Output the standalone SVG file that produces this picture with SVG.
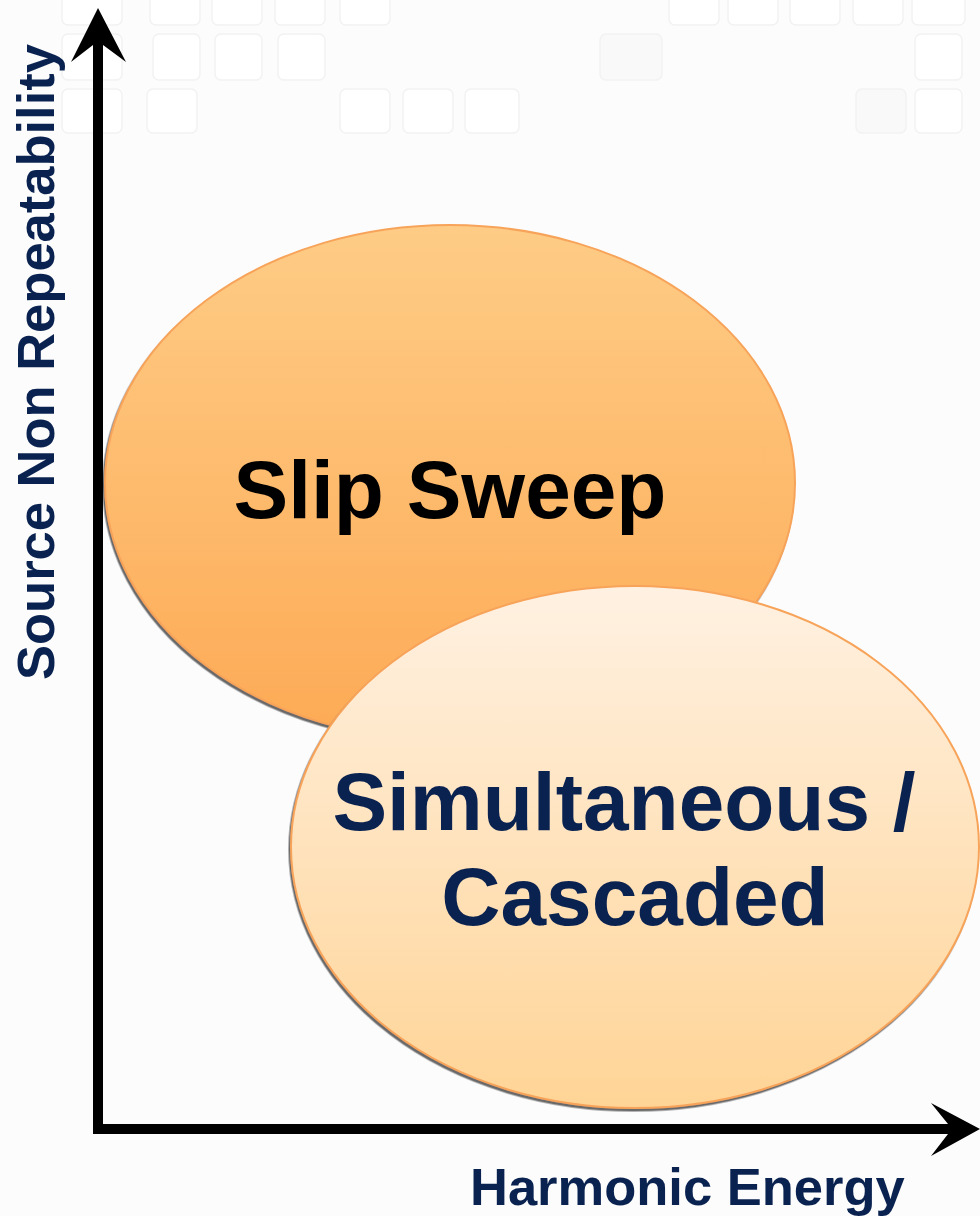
<svg xmlns="http://www.w3.org/2000/svg" width="980" height="1216" viewBox="0 0 980 1216">
  <defs>
    <linearGradient id="gSlip" x1="0" y1="0" x2="0" y2="1">
      <stop offset="0" stop-color="#FECC86"/>
      <stop offset="1" stop-color="#FDAA55"/>
    </linearGradient>
    <linearGradient id="gSim" x1="0" y1="0" x2="0" y2="1">
      <stop offset="0" stop-color="#FFF1E2"/>
      <stop offset="1" stop-color="#FFD496"/>
    </linearGradient>
    <filter id="shadow" x="-10%" y="-10%" width="120%" height="125%">
      <feDropShadow dx="-1.5" dy="2.5" stdDeviation="0.6" flood-color="#505050" flood-opacity="0.85"/>
    </filter>
    <style>
      .tile { fill: #FFFFFF; stroke: #F2F2F2; stroke-width: 1.5; }
      .node { stroke: #F7A45A; stroke-width: 2; }
      .lbl { font-family: "Liberation Sans", Arial, sans-serif; font-weight: bold; }
      .axis { fill: #000; }
    </style>
  </defs>

  <rect width="980" height="1216" fill="#FCFCFC"/>

  <g id="background">
    <rect class="tile" x="62" y="-8" width="60" height="33" rx="6"/>
    <rect class="tile" x="150" y="-8" width="50" height="33" rx="6"/>
    <rect class="tile" x="212" y="-8" width="50" height="33" rx="6"/>
    <rect class="tile" x="275" y="-8" width="50" height="33" rx="6"/>
    <rect class="tile" x="340" y="-8" width="50" height="33" rx="6"/>
    <rect class="tile" x="669" y="-8" width="50" height="33" rx="6"/>
    <rect class="tile" x="728" y="-8" width="50" height="33" rx="6"/>
    <rect class="tile" x="790" y="-8" width="50" height="33" rx="6"/>
    <rect class="tile" x="853" y="-8" width="50" height="33" rx="6"/>
    <rect class="tile" x="912" y="-8" width="53" height="33" rx="6"/>
    <rect class="tile" x="62" y="34" width="60" height="46" rx="6"/>
    <rect class="tile" x="153" y="34" width="47" height="46" rx="6"/>
    <rect class="tile" x="215" y="34" width="47" height="46" rx="6"/>
    <rect class="tile" x="278" y="34" width="47" height="46" rx="6"/>
    <rect class="tile" x="600" y="34" width="62" height="46" rx="6" style="fill:#F9F9F9"/>
    <rect class="tile" x="915" y="34" width="47" height="46" rx="6"/>
    <rect class="tile" x="62" y="89" width="60" height="44" rx="6"/>
    <rect class="tile" x="147" y="89" width="50" height="44" rx="6"/>
    <rect class="tile" x="340" y="89" width="50" height="44" rx="6"/>
    <rect class="tile" x="403" y="89" width="50" height="44" rx="6"/>
    <rect class="tile" x="465" y="89" width="54" height="44" rx="6"/>
    <rect class="tile" x="856" y="89" width="50" height="44" rx="6" style="fill:#F9F9F9"/>
    <rect class="tile" x="915" y="89" width="47" height="44" rx="6"/>
  </g>

  <g id="node-slip-sweep">
    <ellipse class="node" cx="450" cy="483" rx="345" ry="258" fill="url(#gSlip)" filter="url(#shadow)"/>
    <text class="lbl" x="450" y="518" font-size="82" text-anchor="middle" fill="#000000">Slip Sweep</text>
  </g>

  <g id="node-simultaneous">
    <ellipse class="node" cx="635" cy="847" rx="344" ry="261" fill="url(#gSim)" filter="url(#shadow)"/>
    <text class="lbl" x="624" y="830" font-size="82" text-anchor="middle" fill="#0A2250">Simultaneous /</text>
    <text class="lbl" x="635" y="925" font-size="82" text-anchor="middle" fill="#0A2250">Cascaded</text>
  </g>

  <g id="connectors">
    <rect class="axis" x="93" y="44" width="10" height="1090"/>
    <polygon class="axis" points="98,8 126,62 103,45 93,45 71,62"/>
    <rect class="axis" x="93" y="1124" width="856" height="10"/>
    <polygon class="axis" points="980,1129 931,1103 948,1124 948,1134 931,1156"/>
  </g>

  <g id="axis-labels">
    <text class="lbl" transform="translate(54,680) rotate(-90)" font-size="52.5" fill="#0A2250">Source Non Repeatability</text>
    <text class="lbl" x="470" y="1205" font-size="52.5" fill="#0A2250">Harmonic Energy</text>
  </g>
</svg>
